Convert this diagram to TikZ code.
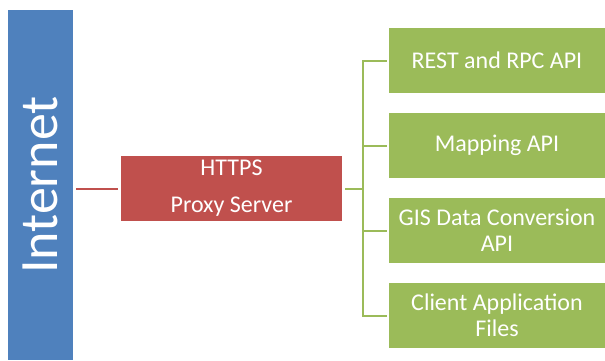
\documentclass[tikz,border=0pt]{standalone}
\usepackage{fontspec}
\setmainfont{Carlito}
\usetikzlibrary{calc}
\definecolor{netblue}{HTML}{4F81BD}
\definecolor{proxyred}{HTML}{C0504D}
\definecolor{apigreen}{HTML}{9BBB59}

\begin{document}
\begin{tikzpicture}[x=1pt,y=-1pt,
  apibox/.style={fill=apigreen, text=white, minimum width=216pt, minimum height=65pt, align=center, inner sep=0pt, font=\fontsize{24}{26}\selectfont},
  link/.style={line width=2pt}]
\useasboundingbox (0,0) rectangle (605,360);
% internet bar
\node[fill=netblue, text=white, minimum width=65pt, minimum height=350pt, inner sep=0pt, font=\fontsize{54}{58}\selectfont] (net) at (40.5,185) {\rotatebox{90}{Internet}};
% proxy
\node[fill=proxyred, text=white, minimum width=221pt, minimum height=65pt, align=center, inner sep=0pt, font=\fontsize{24}{26}\selectfont] (proxy) at (231.5,188.5) {HTTPS\\[11pt]Proxy Server};
\draw[link, proxyred, shorten <=3pt, shorten >=3pt] (net.east |- proxy.west) -- (proxy.west);
% api boxes
\node[apibox] (api1) at (497,60.5) {REST and RPC API};
\node[apibox] (api2) at (497,145.5) {Mapping API};
\node[apibox] (api3) at (497,230.5) {GIS Data Conversion\\API};
\node[apibox] (api4) at (497,315.5) {Client Application\\Files};
\foreach \i in {1,...,4}
  \draw[link, apigreen, shorten <=3pt, shorten >=2pt] (proxy.east) -- ++(21,0) |- (api\i.west);
\end{tikzpicture}
\end{document}
